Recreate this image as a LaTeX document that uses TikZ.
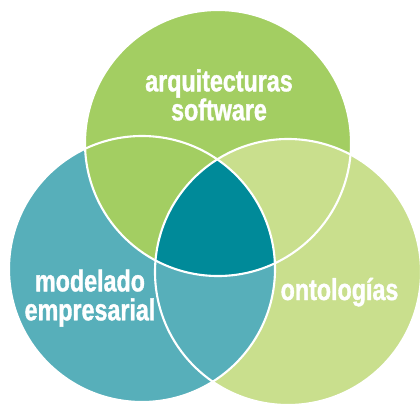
\documentclass[tikz,border=0pt]{standalone}
\usepackage{fontspec}
\newfontfamily\vennfont[FakeStretch=0.77,FakeBold=1.2]{Liberation Sans}
\usepackage{tikz}
\definecolor{topgreen}{HTML}{A3CE62}
\definecolor{rightgreen}{HTML}{C9DF8D}
\definecolor{leftteal}{HTML}{57AFBA}
\definecolor{midteal}{HTML}{008A99}
\newcommand{\rr}{133}
\tikzset{venntext/.style={text=white,inner sep=0pt,align=center,
  font=\vennfont\bfseries\fontsize{21.5}{20.6}\selectfont}}

\begin{document}
\begin{tikzpicture}[x=0.025cm,y=-0.025cm]
\clip (0,0) rectangle (420,403);
\coordinate (t) at (218,143);
\coordinate (l) at (142,269);
\coordinate (r) at (288,272);
\fill[topgreen] (t) circle (\rr);
\fill[leftteal] (l) circle (\rr);
\fill[rightgreen] (r) circle (\rr);
\begin{scope}
\clip (t) circle (\rr);
\fill[topgreen] (l) circle (\rr);
\fill[rightgreen] (r) circle (\rr);
\end{scope}
\begin{scope}
\clip (l) circle (\rr);
\fill[leftteal] (r) circle (\rr);
\end{scope}
\begin{scope}
\clip (t) circle (\rr);
\clip (l) circle (\rr);
\fill[midteal] (r) circle (\rr);
\end{scope}
\foreach \c in {t,l,r}
  \draw[white,line width=1.5pt] (\c) circle (\rr);
\node[venntext] (arq) at (219,95) {arquitecturas\\software};
\node[venntext] (mod) at (90,298) {modelado\\empresarial};
\node[venntext,anchor=base] (ont) at (339.5,300) {ontologías};
\end{tikzpicture}
\end{document}
